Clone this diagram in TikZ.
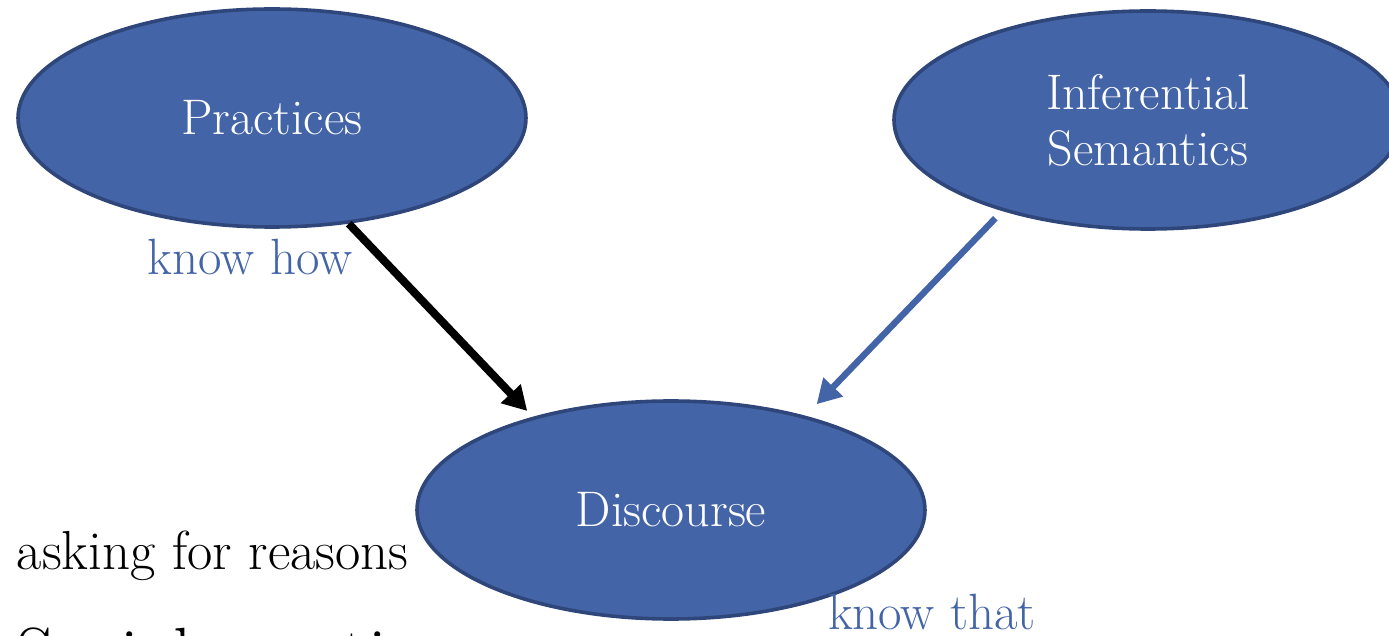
\documentclass[tikz,border=0pt]{standalone}
\usetikzlibrary{shapes.geometric,arrows.meta}

\definecolor{ellfill}{RGB}{68,100,168}
\definecolor{elldraw}{RGB}{47,70,122}
\definecolor{lblue}{RGB}{68,100,168}

\begin{document}
\begin{tikzpicture}[x=0.5pt, y=-0.5pt, every node/.style={ellipse, draw=elldraw, fill=ellfill, line width=1.8pt, text=white, inner sep=0pt, minimum width=254pt, minimum height=109pt, align=center, font=\fontsize{25}{28}\selectfont}, >={Triangle[length=12pt,width=13pt]}]

\tikzstyle{caption}=[rectangle, draw=none, fill=none, minimum width=0pt, minimum height=0pt, text=lblue, font=\fontsize{25.5}{28}\selectfont]
\tikzstyle{link}=[->, line width=4pt, shorten >=4pt]

\useasboundingbox (0,0) rectangle (1389,636);
\clip (0,0) rectangle (1389,636);

\node (prac) at (272,118) {Practices};
\node (infer) at (1148,120) {Inferential\\Semantics};
\node (disc) at (671,510) {Discourse};

\node[caption, anchor=base] (how) at (250,275) {know how};
\node[caption, anchor=base] (that) at (932,630) {know that};
\node[caption, text=black, anchor=base west, font=\fontsize{27.5}{30}\selectfont] (asking) at (15,570) {asking for reasons};
\node[caption, text=black, anchor=base west, font=\fontsize{37}{40}\selectfont] (social) at (15,680) {Social practices};

\draw[link, black] (prac.-54) -- (disc.146);
\draw[link, lblue, line width=3.2pt, shorten <=5pt, shorten >=8pt] (infer.-148) -- (disc.35);
\end{tikzpicture}
\end{document}
